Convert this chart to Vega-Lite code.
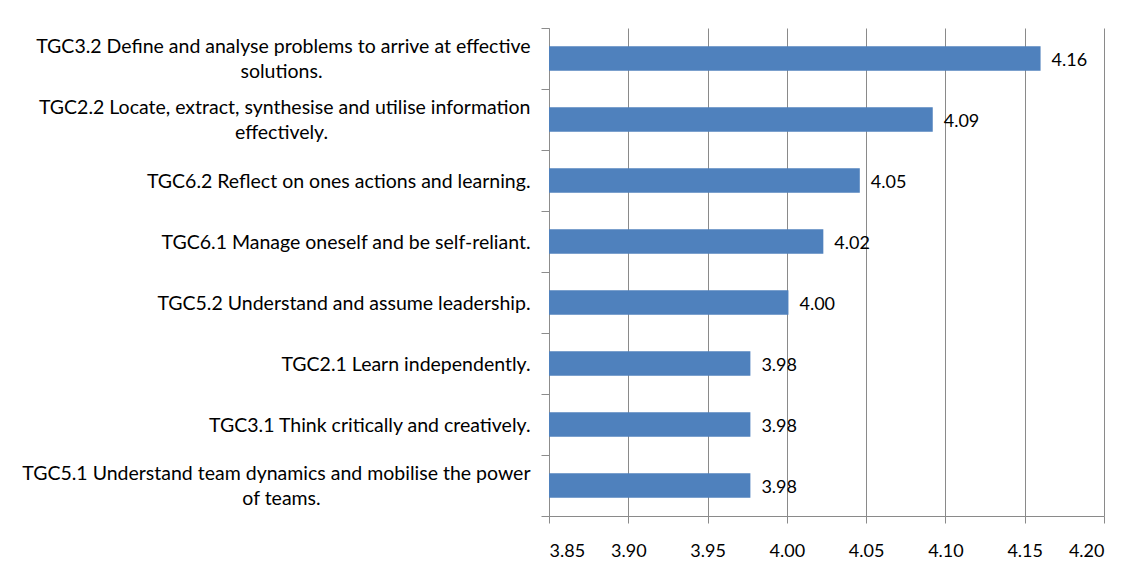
{
  "$schema": "https://vega.github.io/schema/vega-lite/v6.json",
  "width": 555,
  "height": 488,
  "autosize": {"type": "none"},
  "padding": {"left": 549, "top": 28, "right": 30, "bottom": 66},
  "background": "white",
  "config": {
    "view": {"stroke": null},
    "font": "Lato",
    "axis": {"labelFont": "Lato", "labelFontSize": 18, "labelColor": "#000000", "titleFont": "Lato"}
  },
  "data": {
    "values": [
      {"cat": "TGC3.2 Define and analyse problems to arrive at effective|solutions.", "v": 4.16},
      {"cat": "TGC2.2 Locate, extract, synthesise and utilise information|effectively.", "v": 4.092},
      {"cat": "TGC6.2 Reflect on ones actions and learning.", "v": 4.046},
      {"cat": "TGC6.1 Manage oneself and be self-reliant.", "v": 4.023},
      {"cat": "TGC5.2 Understand and assume leadership.", "v": 4.001},
      {"cat": "TGC2.1 Learn independently.", "v": 3.977},
      {"cat": "TGC3.1 Think critically and creatively.", "v": 3.977},
      {"cat": "TGC5.1 Understand team dynamics and mobilise the power|of teams.", "v": 3.977}
    ]
  },
  "resolve": {"axis": {"y": "independent"}},
  "layer": [
    {
      "mark": {"type": "bar", "color": "#4F81BD", "height": {"band": 0.4}},
      "encoding": {
        "y": {
          "field": "cat", "type": "nominal", "sort": null,
          "scale": {"paddingInner": 0, "paddingOuter": 0},
          "axis": {
            "orient": "left", "title": null,
            "labelExpr": "isString(datum.value) ? split(datum.value, '|')[0] : ''",
            "labelAlign": "right", "labelBaseline": "middle", "labelFontSize": 19.5,
            "labelPadding": 11, "labelLimit": 700,
            "labelOffset": {"condition": {"test": "isString(datum.value) && indexof(datum.value, '|') >= 0", "value": -12}, "value": 1},
            "tickBand": "extent", "tickSize": 8, "tickColor": "#8c8c8c",
            "domainColor": "#8c8c8c", "grid": false
          }
        },
        "x": {
          "field": "v", "type": "quantitative",
          "scale": {"domain": [3.85, 4.2], "nice": false, "zero": false},
          "axis": {
            "title": null, "values": [3.85, 3.9, 3.95, 4.0, 4.05, 4.1, 4.15, 4.2],
            "format": ".2f", "grid": true, "gridColor": "#8a8a8a",
            "domainColor": "#8a8a8a", "tickColor": "#8a8a8a", "tickSize": 7,
            "labelPadding": 28, "labelBaseline": "middle"
          }
        },
        "x2": {"datum": 3.85}
      }
    },
    {
      "mark": {"type": "text", "align": "left", "baseline": "middle", "dx": 11, "dy": 2, "fontSize": 18, "font": "Lato", "color": "#000000"},
      "encoding": {
        "y": {
          "field": "cat", "type": "nominal", "sort": null,
          "axis": {
            "orient": "left", "title": null,
            "labelExpr": "isString(datum.value) && indexof(datum.value, '|') >= 0 ? split(datum.value, '|')[1] : ''",
            "labelAlign": "center", "labelBaseline": "middle", "labelFontSize": 19.5,
            "labelPadding": 268, "labelLimit": 700, "labelOffset": 13,
            "ticks": false, "tickSize": 0, "domain": false, "grid": false
          }
        },
        "x": {"field": "v", "type": "quantitative"},
        "text": {"field": "v", "type": "quantitative", "format": ".2f"}
      }
    }
  ]
}
